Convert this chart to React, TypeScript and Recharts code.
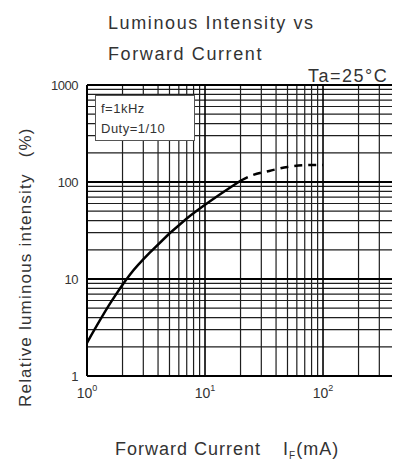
import React from 'react'
import { Label, Line, LineChart, ReferenceLine, XAxis, YAxis } from 'recharts'

// curve (mA, %)
const solidCurve = [
  { current: 1, intensity: 2.2 },
  { current: 1.6, intensity: 5.8 },
  { current: 2.3, intensity: 11 },
  { current: 3.6, intensity: 20 },
  { current: 7, intensity: 42 },
  { current: 12, intensity: 68 },
  { current: 20, intensity: 103 }
]

const dashedCurve = [
  { current: 20, intensity: 103 },
  { current: 25, intensity: 117 },
  { current: 35, intensity: 130 },
  { current: 50, intensity: 143 },
  { current: 70, intensity: 149 },
  { current: 100, intensity: 150 }
]

const xTicks = [1, 10, 100]
const yTicks = [1, 10, 100, 1000]
const xMinorGrid = [2, 3, 4, 5, 6, 7, 8, 9, 20, 30, 40, 50, 60, 70, 80, 90, 200, 300, 400, 500]
const yMinorGrid = [2, 3, 4, 5, 6, 7, 8, 9, 20, 30, 40, 50, 60, 70, 80, 90, 200, 300, 400, 500, 600, 700, 800, 900]
const xMajorGrid = [10, 100]
const yMajorGrid = [10, 100, 1000]

const FONT = '"Liberation Sans", Arial, sans-serif'
const INK = '#333'

function XTick({ x, payload }: any) {
  const exp = Math.round(Math.log10(payload.value))
  return (
    <text x={x} y={390} textAnchor="middle" fontFamily={FONT} fontSize={14} fill={INK}>
      10<tspan dy={-7} fontSize={9}>{exp}</tspan>
    </text>
  )
}

function YTick({ y, payload }: any) {
  return (
    <text x={70} y={y} dy={5} textAnchor="end" fontFamily={FONT} fontSize={13} fill={INK} letterSpacing={-0.5}>
      {payload.value}
    </text>
  )
}

export default function App() {
  return (
    <div style={{ position: 'relative', width: 392, height: 458, overflow: 'hidden', background: '#fff' }}>
      <LineChart width={400} height={458} margin={{ top: 77, right: 0, bottom: 0, left: 0 }}>
        <XAxis
          dataKey="current"
          type="number"
          scale="log"
          domain={[1, 525]}
          allowDataOverflow
          ticks={xTicks}
          tick={<XTick />}
          tickLine={false}
          axisLine={{ stroke: '#000', strokeWidth: 2 }}
          height={90}
        >
          <Label
            content={() => (
              <text x={107} y={447} fontFamily={FONT} fontSize={18} fill={INK} letterSpacing={1}>
                Forward Current
                <tspan dx={22}>I</tspan>
                <tspan dy={4} fontSize={10}>F</tspan>
                <tspan dy={-4}>(mA)</tspan>
              </text>
            )}
          />
        </XAxis>
        <YAxis
          dataKey="intensity"
          type="number"
          scale="log"
          domain={[1, 1000]}
          allowDataOverflow
          ticks={yTicks}
          tick={<YTick />}
          tickLine={false}
          axisLine={{ stroke: '#000', strokeWidth: 2 }}
          width={79}
        >
          <Label
            content={() => (
              <text
                transform="rotate(-90)"
                x={-399}
                y={23}
                fontFamily={FONT}
                fontSize={17}
                fill={INK}
                letterSpacing={1.2}
              >
                Relative luminous intensity
                <tspan dx={16}>(%)</tspan>
              </text>
            )}
          />
        </YAxis>

        {xMinorGrid.map((v) => (
          <ReferenceLine key={`xm${v}`} x={v} stroke="#1e1e1e" strokeWidth={1.2} />
        ))}
        {yMinorGrid.map((v) => (
          <ReferenceLine key={`ym${v}`} y={v} stroke="#1e1e1e" strokeWidth={1.2} />
        ))}
        {xMajorGrid.map((v) => (
          <ReferenceLine key={`xM${v}`} x={v} stroke="#000" strokeWidth={1.6} />
        ))}
        {yMajorGrid.map((v) => (
          <ReferenceLine key={`yM${v}`} y={v} stroke="#000" strokeWidth={2.2} />
        ))}

        <Line
          data={solidCurve}
          dataKey="intensity"
          type="monotone"
          stroke="#000"
          strokeWidth={2.5}
          dot={false}
          isAnimationActive={false}
        />
        <Line
          data={dashedCurve}
          dataKey="intensity"
          type="monotone"
          stroke="#000"
          strokeWidth={2.5}
          strokeDasharray="8 6"
          dot={false}
          isAnimationActive={false}
        />
      </LineChart>

      <svg
        width={392}
        height={458}
        style={{ position: 'absolute', left: 0, top: 0, pointerEvents: 'none' }}
      >
        <text x={100} y={21} fontFamily={FONT} fontSize={18} fill={INK} letterSpacing={1.6}>
          Luminous Intensity vs
        </text>
        <text x={100} y={52} fontFamily={FONT} fontSize={18} fill={INK} letterSpacing={1.6}>
          Forward Current
        </text>
        <text x={300} y={74} fontFamily={FONT} fontSize={18} fill={INK} letterSpacing={1.5}>
          Ta=25°C
        </text>
      </svg>

      <div
        style={{
          position: 'absolute',
          left: 87,
          top: 87,
          width: 100,
          height: 46,
          border: '1px solid #555',
          background: '#fff',
          fontFamily: FONT,
          fontSize: 13,
          color: INK,
          lineHeight: '20px',
          padding: '3px 0 0 5px',
          boxSizing: 'border-box',
          letterSpacing: 0.5
        }}
      >
        <div>f=1kHz</div>
        <div>Duty=1/10</div>
      </div>
    </div>
  )
}
